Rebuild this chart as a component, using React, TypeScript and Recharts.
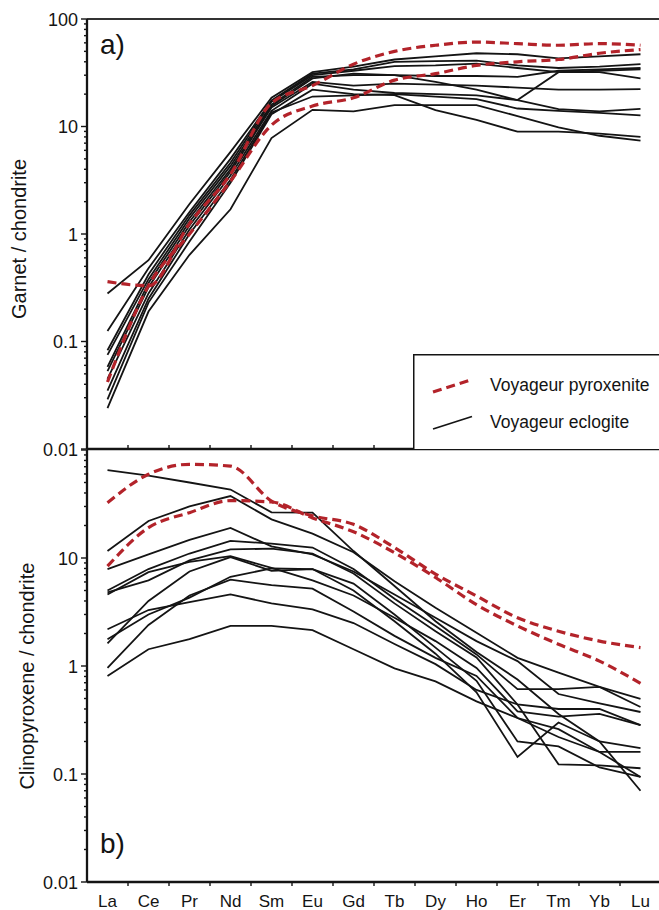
import React from 'react';
import { LineChart, Line, XAxis, YAxis, ReferenceLine, Legend, Customized } from 'recharts';

const ELEMENTS = ['La', 'Ce', 'Pr', 'Nd', 'Sm', 'Eu', 'Gd', 'Tb', 'Dy', 'Ho', 'Er', 'Tm', 'Yb', 'Lu'];

// a) Garnet / chondrite
const GRT_PYX_1 = [0.36, 0.33, 1.25, 3.6, 16.5, 24, 38, 50, 57, 61, 59, 57, 59, 57];
const GRT_PYX_2 = [0.042, 0.33, 1.0, 3.1, 10.3, 15.5, 18.5, 27, 31, 37, 40, 42, 48, 52];
const GRT_ECL_1 = [0.28, 0.57, 1.9, 5.8, 18.5, 32, 36, 42, 45, 48, 47, 43, 45, 47];
const GRT_ECL_2 = [0.125, 0.48, 1.6, 5.0, 17.5, 31, 34, 40, 40.5, 41, 37, 35, 36, 38];
const GRT_ECL_3 = [0.083, 0.42, 1.5, 4.6, 17, 30, 33, 36.5, 37, 38.5, 35, 32, 32, 28];
const GRT_ECL_4 = [0.075, 0.38, 1.4, 4.3, 16, 29, 30, 30, 29.5, 29.5, 29, 33, 34, 35];
const GRT_ECL_5 = [0.058, 0.35, 1.3, 4.0, 15.5, 28, 31, 30, 26, 22, 17.6, 32, 33, 34];
const GRT_ECL_6 = [0.053, 0.32, 1.2, 3.8, 15, 26, 24, 25, 24.5, 24, 23, 22, 22, 22.3];
const GRT_ECL_7 = [0.045, 0.28, 1.1, 3.5, 14, 25, 22, 20.5, 20, 19.5, 17.6, 14.5, 13.8, 14.6];
const GRT_ECL_8 = [0.035, 0.25, 1.0, 3.2, 13.5, 19, 19.5, 20, 19, 18, 14.7, 14, 13.4, 12.7];
const GRT_ECL_9 = [0.029, 0.23, 0.85, 3.0, 13, 22, 20, 19.6, 14.2, 11.5, 8.95, 8.95, 8.6, 8.0];
const GRT_ECL_10 = [0.024, 0.19, 0.64, 1.7, 7.8, 14.3, 13.8, 15.8, 15.8, 15.8, 12.5, 9.8, 8.2, 7.4];

// b) Clinopyroxene / chondrite
const CPX_PYX_1 = [32.5, 59.6, 73.7, 71, 33.7, 24.6, 20.5, 12.5, 7.1, 4.45, 2.8, 2.1, 1.7, 1.48];
const CPX_PYX_2 = [8.4, 19.1, 26.3, 34, 33, 23.5, 17.5, 11.2, 6.6, 3.7, 2.35, 1.59, 1.11, 0.69];
const CPX_ECL_1 = [65, 58, 50, 43, 26.5, 26.3, 11.6, 5.5, 2.6, 1.35, 0.75, 0.36, 0.2, 0.07];
const CPX_ECL_2 = [11.6, 22, 30, 37.5, 22.8, 16.8, 11.3, 6.1, 3.46, 2.03, 1.19, 0.87, 0.64, 0.495];
const CPX_ECL_3 = [7.9, 10.8, 14.7, 19, 12.8, 10.8, 7.5, 4.6, 2.8, 1.7, 1.11, 0.55, 0.45, 0.375];
const CPX_ECL_4 = [5.0, 7.9, 11, 14.4, 13.6, 12.5, 7.9, 4.2, 2.35, 1.28, 0.61, 0.61, 0.64, 0.417];
const CPX_ECL_5 = [4.8, 6.2, 9.5, 12, 12.2, 11, 7.2, 3.8, 2.1, 1.2, 0.44, 0.4, 0.4, 0.284];
const CPX_ECL_6 = [4.6, 7.4, 9.2, 10.4, 8.1, 6.2, 4.5, 2.8, 1.7, 0.96, 0.38, 0.34, 0.36, 0.284];
const CPX_ECL_7 = [1.62, 4.0, 7.5, 10.2, 7.6, 7.9, 5.8, 3.0, 1.48, 0.73, 0.2, 0.18, 0.115, 0.094];
const CPX_ECL_8 = [1.77, 3.0, 4.3, 6.7, 8.0, 7.9, 5.0, 2.6, 1.3, 0.57, 0.144, 0.3, 0.2, 0.174];
const CPX_ECL_9 = [0.96, 2.4, 4.5, 6.3, 5.6, 5.2, 3.2, 1.9, 1.19, 0.81, 0.33, 0.26, 0.16, 0.16];
const CPX_ECL_10 = [2.19, 3.3, 3.9, 4.6, 3.8, 3.35, 2.5, 1.6, 1.04, 0.6, 0.44, 0.123, 0.12, 0.113];
const CPX_ECL_11 = [0.81, 1.43, 1.77, 2.35, 2.35, 2.15, 1.43, 0.95, 0.72, 0.47, 0.33, 0.22, 0.16, 0.094];

const Y_TICKS = [0.01, 0.02, 0.03, 0.04, 0.05, 0.06, 0.07, 0.08, 0.09, 0.1, 0.2, 0.3, 0.4, 0.5, 0.6, 0.7, 0.8, 0.9,
  1, 2, 3, 4, 5, 6, 7, 8, 9, 10, 20, 30, 40, 50, 60, 70, 80, 90, 100];
const Y_MAJOR = [0.01, 0.1, 1, 10, 100];
const Y_LABELS_TOP = ['0.01', '0.1', '1', '10', '100'];
const Y_LABELS_BOTTOM = ['0.01', '0.1', '1', '10'];
const X_BOUNDARIES = [0.5, 1.5, 2.5, 3.5, 4.5, 5.5, 6.5, 7.5, 8.5, 9.5, 10.5, 11.5, 12.5];
const X_CENTERS = [0, 1, 2, 3, 4, 5, 6, 7, 8, 9, 10, 11, 12, 13];

const LEGEND_NAMES = ['Voyageur pyroxenite', 'Voyageur eclogite'];

const GRT_PYX = [GRT_PYX_1, GRT_PYX_2];
const GRT_ECL = [GRT_ECL_1, GRT_ECL_2, GRT_ECL_3, GRT_ECL_4, GRT_ECL_5, GRT_ECL_6, GRT_ECL_7, GRT_ECL_8, GRT_ECL_9, GRT_ECL_10];
const CPX_PYX = [CPX_PYX_1, CPX_PYX_2];
const CPX_ECL = [CPX_ECL_1, CPX_ECL_2, CPX_ECL_3, CPX_ECL_4, CPX_ECL_5, CPX_ECL_6, CPX_ECL_7, CPX_ECL_8, CPX_ECL_9, CPX_ECL_10, CPX_ECL_11];

const FONT = '"Liberation Sans", Arial, Helvetica, sans-serif';
const INK = '#141414';
const RED = '#b3232a';

function buildRows(pyx: number[][], ecl: number[][]) {
  return ELEMENTS.map((el, i) => {
    const r: Record<string, any> = { i, el };
    pyx.forEach((s, k) => { r['p' + k] = s[i]; });
    ecl.forEach((s, k) => { r['e' + k] = s[i]; });
    return r;
  });
}

const GRT_ROWS = buildRows(GRT_PYX, GRT_ECL);
const CPX_ROWS = buildRows(CPX_PYX, CPX_ECL);

function makeYTick(labels: string[]) {
  return (props: any) => {
    const { x, y, payload } = props;
    const v = payload.value;
    const major = Y_MAJOR.includes(v);
    const lab = String(v);
    const show = major && labels.includes(lab);
    return (
      <g>
        <line x1={x} x2={x - (major ? 6 : 3)} y1={y} y2={y} stroke={INK} strokeWidth={1.4} />
        {show && (
          <text x={x - 9} y={y} dy={6.5} textAnchor="end" fontSize={18} fontFamily={FONT} fill={INK}>
            {lab}
          </text>
        )}
      </g>
    );
  };
}

const TopXTick = (props: any) => {
  const { x, y } = props;
  return <line x1={x} x2={x} y1={y} y2={y - 4} stroke={INK} strokeWidth={1.4} />;
};

const BottomXTick = (props: any) => {
  const { x, y, payload } = props;
  const v = payload.value;
  if (Number.isInteger(v)) {
    return (
      <text x={x} y={y + 25} textAnchor="middle" fontSize={17} fontFamily={FONT} fill={INK}>
        {ELEMENTS[v]}
      </text>
    );
  }
  return <line x1={x} x2={x} y1={y} y2={y + 4} stroke={INK} strokeWidth={1.4} />;
};

const LegendBox = (props: any) => {
  const payload: any[] = props.payload || [];
  const items = LEGEND_NAMES.map((n) => payload.find((p) => p.value === n)).filter(Boolean);
  return (
    <svg width={250} height={96} style={{ display: 'block' }}>
      <rect x={0.75} y={0.75} width={300} height={95} fill="#fff" stroke={INK} strokeWidth={1.5} />
      {items.map((it: any, k: number) => {
        const dashed = it.value === LEGEND_NAMES[0];
        const base = k === 0 ? 38 : 75;
        return (
          <g key={it.value}>
            <line
              x1={20} y1={base} x2={59} y2={base - 12.5}
              stroke={it.color}
              strokeWidth={dashed ? 3.2 : 1.8}
              strokeDasharray={dashed ? '9 5' : undefined}
            />
            <text x={77} y={base - 1} fontSize={17.5} fontFamily={FONT} fill={INK}>{it.value}</text>
          </g>
        );
      })}
    </svg>
  );
};

function seriesLines(pyx: number[][], ecl: number[][]) {
  const blacks = ecl.map((_, k) => (
    <Line key={'e' + k} dataKey={'e' + k} name={LEGEND_NAMES[1]} type="linear" stroke={INK} strokeWidth={1.8}
      dot={false} activeDot={false} isAnimationActive={false} />
  ));
  const reds = pyx.map((_, k) => (
    <Line key={'p' + k} dataKey={'p' + k} name={LEGEND_NAMES[0]} type="monotone" stroke={RED} strokeWidth={3.2}
      strokeDasharray="9 5" dot={false} activeDot={false} isAnimationActive={false} />
  ));
  return [...blacks, ...reds];
}

const TopTexts = () => (
  <g fontFamily={FONT} fill={INK}>
    <text x={100} y={54} fontSize={28}>a)</text>
    <text x={26} y={239} fontSize={20} textAnchor="middle" transform="rotate(-90, 26, 239)">Garnet / chondrite</text>
  </g>
);

const BottomTexts = () => (
  <g fontFamily={FONT} fill={INK}>
    <text x={100} y={413} fontSize={28}>b)</text>
    <text x={34} y={236} fontSize={20} textAnchor="middle" transform="rotate(-90, 34, 236)">Clinopyroxene / chondrite</text>
  </g>
);

export default function App() {
  return (
    <div style={{ position: 'absolute', left: 0, top: 0, width: 659, height: 910, overflow: 'hidden', background: '#fff' }}>
      <div style={{ position: 'absolute', left: 0, top: 440 }}>
        <LineChart width={665} height={470} data={CPX_ROWS} margin={{ top: 10, right: 4, left: 0, bottom: 0 }}>
          <XAxis type="number" dataKey="i" domain={[-0.5, 13.5]} allowDataOverflow
            ticks={[...X_BOUNDARIES, ...X_CENTERS].sort((a, b) => a - b)} interval={0}
            tick={BottomXTick} tickLine={false} tickSize={0} tickMargin={0} height={28}
            axisLine={{ stroke: INK, strokeWidth: 2.3 }} />
          <YAxis type="number" scale="log" domain={[0.01, 100]} allowDataOverflow ticks={Y_TICKS} interval={0}
            tick={makeYTick(Y_LABELS_BOTTOM)} tickLine={false} tickSize={0} tickMargin={0} width={87}
            axisLine={{ stroke: INK, strokeWidth: 2.3 }} />
          {seriesLines(CPX_PYX, CPX_ECL)}
          <Customized component={BottomTexts} />
        </LineChart>
      </div>
      <div style={{ position: 'absolute', left: 0, top: 0 }}>
        <LineChart width={665} height={470} data={GRT_ROWS} margin={{ top: 19, right: 4, left: 0, bottom: 0 }}>
          <XAxis type="number" dataKey="i" domain={[-0.5, 13.5]} allowDataOverflow ticks={X_BOUNDARIES} interval={0}
            tick={TopXTick} tickLine={false} tickSize={0} tickMargin={0} height={21}
            axisLine={{ stroke: INK, strokeWidth: 2.3 }} />
          <YAxis type="number" scale="log" domain={[0.01, 100]} allowDataOverflow ticks={Y_TICKS} interval={0}
            tick={makeYTick(Y_LABELS_TOP)} tickLine={false} tickSize={0} tickMargin={0} width={87}
            axisLine={{ stroke: INK, strokeWidth: 2.3 }} />
          <ReferenceLine y={100} stroke="#333" strokeWidth={2} ifOverflow="visible" />
          {seriesLines(GRT_PYX, GRT_ECL)}
          <Legend layout="horizontal" verticalAlign="middle" align="center" content={LegendBox}
            wrapperStyle={{ left: 413, top: 354, width: 250, height: 96 }} />
          <Customized component={TopTexts} />
        </LineChart>
      </div>
    </div>
  );
}
